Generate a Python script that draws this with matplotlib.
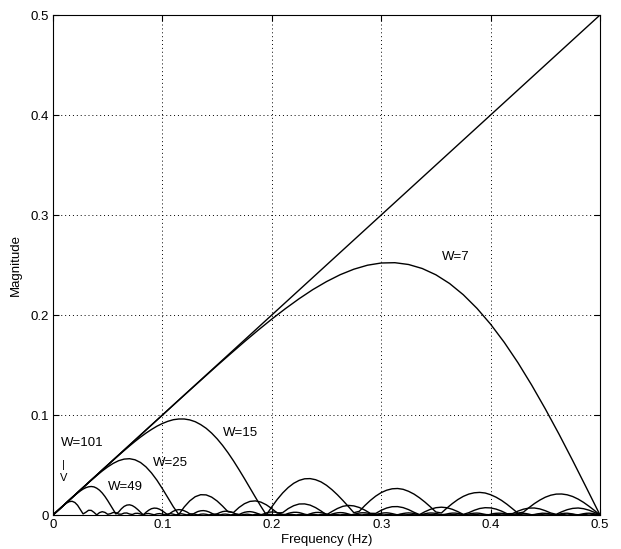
import numpy as np
import matplotlib
matplotlib.use("Agg")
import matplotlib.pyplot as plt

plt.rcParams['font.family'] = ['Liberation Sans', 'DejaVu Sans']

# Magnitude of the smoothing differentiators, sampled on uniform frequency
# grids from 0 to 0.5 Hz (values stored in units of 1e-4).
ideal_freq = [0.0, 0.5]
ideal_mag = [0.0, 0.5]

w7_mag = [0, 125, 250, 375, 500, 625, 750, 875, 999, 1124,
          1248, 1371, 1494, 1614, 1733, 1848, 1959, 2064, 2163, 2254,
          2334, 2403, 2458, 2498, 2520, 2523, 2505, 2465, 2402, 2315,
          2203, 2067, 1908, 1726, 1523, 1300, 1061, 809, 545, 274,
          0]

w15_mag = [0, 50, 100, 150, 200, 250, 300, 350, 400, 450,
           499, 548, 597, 644, 691, 736, 779, 819, 855, 888,
           915, 937, 953, 960, 960, 951, 933, 904, 867, 819,
           762, 696, 622, 541, 454, 364, 271, 178, 87, 1,
           82, 156, 221, 275, 317, 346, 362, 364, 353, 331,
           297, 253, 202, 145, 85, 23, 37, 94, 145, 189,
           224, 248, 262, 265, 257, 237, 209, 172, 129, 81,
           30, 20, 69, 114, 154, 186, 209, 222, 226, 220,
           203, 178, 146, 107, 63, 18, 29, 73, 114, 149,
           178, 198, 209, 210, 202, 185, 159, 126, 87, 45,
           0]

w25_mag = [0, 50, 100, 150, 200, 250, 299, 348, 395, 440,
           481, 516, 543, 559, 563, 552, 525, 481, 421, 348,
           263, 173, 82, 5, 81, 141, 183, 203, 201, 179,
           140, 89, 32, 25, 75, 113, 136, 141, 129, 102,
           64, 20, 24, 64, 93, 110, 111, 99, 74, 40,
           2, 35, 65, 87, 96, 91, 75, 49, 17, 16,
           47, 70, 83, 84, 74, 54, 27, 4, 33, 57,
           73, 78, 73, 57, 34, 6, 23, 47, 65, 73,
           71, 59, 39, 13, 14, 39, 58, 69, 70, 61,
           43, 20, 7, 32, 53, 66, 70, 63, 48, 26,
           0]

w49_mag = [0, 25, 50, 75, 100, 125, 150, 174, 198, 220,
           241, 259, 273, 282, 285, 281, 268, 248, 220, 185,
           144, 99, 54, 10, 30, 62, 86, 99, 102, 94,
           77, 54, 27, 1, 27, 48, 63, 69, 67, 57,
           41, 21, 1, 21, 38, 49, 54, 51, 42, 29,
           12, 6, 22, 35, 42, 44, 40, 31, 18, 3,
           12, 24, 34, 38, 37, 31, 21, 9, 4, 17,
           27, 32, 34, 30, 23, 13, 1, 11, 21, 28,
           30, 29, 24, 15, 5, 6, 16, 23, 27, 27,
           24, 17, 8, 3, 12, 20, 25, 26, 23, 18,
           10, 0, 9, 17, 22, 24, 23, 18, 11, 3,
           6, 14, 20, 22, 22, 19, 13, 5, 3, 11,
           17, 21, 22, 19, 14, 7, 1, 9, 15, 19,
           21, 19, 15, 8, 1, 7, 13, 18, 20, 19,
           16, 10, 3, 5, 11, 16, 19, 19, 16, 11,
           4, 3, 10, 15, 18, 19, 17, 12, 6, 1,
           8, 14, 17, 18, 17, 13, 7, 1, 6, 12,
           16, 18, 17, 14, 9, 2, 5, 11, 15, 18,
           17, 15, 10, 4, 3, 9, 14, 17, 18, 15,
           11, 5, 2, 8, 13, 17, 18, 16, 12, 7,
           0]

w101_mag = [0, 25, 50, 75, 99, 120, 134, 137, 125, 97,
            55, 11, 27, 47, 46, 26, 1, 24, 33, 26,
            7, 13, 25, 23, 9, 8, 19, 20, 10, 5,
            16, 17, 10, 3, 13, 15, 9, 2, 11, 14,
            9, 1, 10, 13, 8, 1, 9, 12, 7, 1,
            8, 11, 7, 1, 8, 10, 7, 1, 7, 9,
            6, 1, 7, 9, 6, 1, 6, 8, 5, 1,
            6, 8, 5, 1, 6, 7, 5, 1, 6, 7,
            4, 1, 5, 7, 4, 1, 5, 6, 4, 1,
            5, 6, 4, 1, 5, 6, 3, 1, 5, 6,
            3, 1, 5, 6, 3, 1, 5, 5, 3, 1,
            5, 5, 3, 1, 5, 5, 3, 1, 5, 5,
            2, 1, 4, 5, 2, 2, 4, 5, 2, 2,
            4, 4, 2, 2, 4, 4, 2, 2, 4, 4,
            2, 2, 4, 4, 2, 2, 4, 4, 1, 2,
            4, 4, 1, 2, 4, 4, 1, 2, 4, 4,
            1, 2, 4, 4, 1, 2, 4, 4, 1, 2,
            4, 4, 1, 2, 4, 3, 1, 2, 4, 3,
            1, 2, 4, 3, 1, 3, 4, 3, 0, 3,
            4, 3, 0, 3, 4, 3, 0, 3, 4, 3,
            0]

curves = [w7_mag, w15_mag, w25_mag, w49_mag, w101_mag]

tick_vals = [0, 0.1, 0.2, 0.3, 0.4, 0.5]
tick_labels = ['0', '0.1', '0.2', '0.3', '0.4', '0.5']

fig = plt.figure(figsize=(6.21, 5.49), dpi=100)
ax = fig.add_axes([53/621, 34/549, 547/621, 500/549])

ax.plot(ideal_freq, ideal_mag, color='black', lw=1.0)
for mag in curves:
    freq = np.linspace(0.0, 0.5, len(mag))
    ax.plot(freq, np.asarray(mag) / 1e4, color='black', lw=1.0)

ax.set_xlim(0, 0.5)
ax.set_ylim(0, 0.5)
ax.set_xticks(tick_vals, tick_labels)
ax.set_yticks(tick_vals, tick_labels)
ax.tick_params(direction='in', length=4, width=0.8, labelsize=9.5,
               top=True, right=True, pad=3)
ax.grid(True, ls=(0, (1, 3)), color='black', lw=0.7)
for s in ax.spines.values():
    s.set_linewidth(0.8)
ax.set_xlabel('Frequency (Hz)', fontsize=9.5, labelpad=2)
ax.set_ylabel('Magnitude', fontsize=9.5, labelpad=6)

ax.text(0.368, 0.258, 'W=7', fontsize=9.5, ha='center', va='center')
ax.text(0.1714, 0.082, 'W=15', fontsize=9.5, ha='center', va='center')
ax.text(0.107, 0.052, 'W=25', fontsize=9.5, ha='center', va='center')
ax.text(0.0663, 0.0275, 'W=49', fontsize=9.5, ha='center', va='center')
ax.text(0.0265, 0.072, 'W=101', fontsize=9.5, ha='center', va='center')
ax.text(0.0094, 0.050, '|', fontsize=8, ha='center', va='center')
ax.text(0.0094, 0.037, 'V', fontsize=8, ha='center', va='center')

fig.savefig('out.png', dpi=100)
